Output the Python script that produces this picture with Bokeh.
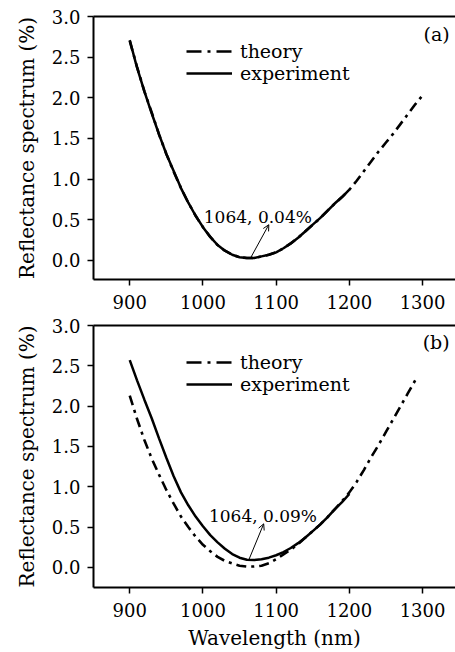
from bokeh.plotting import figure
from bokeh.layouts import column
from bokeh.models import (Range1d, FixedTicker, LinearAxis, Legend, LegendItem,
                          Arrow, OpenHead, Label, PrintfTickFormatter)
from bokeh.embed import file_html
from bokeh.resources import INLINE

# ---------------- data ----------------
x_ticks = [900, 1000, 1100, 1200, 1300]
y_ticks = [0.0, 0.5, 1.0, 1.5, 2.0, 2.5, 3.0]

# panel (a)
wl_a_theory = list(range(900, 1301, 10))
r_a_theory = [2.70, 2.38, 2.08, 1.82, 1.55, 1.31, 1.09, 0.89, 0.71, 0.55,
              0.41, 0.29, 0.19, 0.12, 0.07, 0.04, 0.03, 0.03, 0.05, 0.07,
              0.10, 0.15, 0.21, 0.28, 0.36, 0.44, 0.52, 0.61, 0.70, 0.78,
              0.87, 0.98, 1.10, 1.22, 1.34, 1.45, 1.56, 1.68, 1.80, 1.92,
              2.03]
wl_a_exp = list(range(900, 1201, 10))
r_a_exp = [2.71, 2.37, 2.08, 1.81, 1.55, 1.31, 1.10, 0.89, 0.71, 0.55,
           0.41, 0.29, 0.19, 0.12, 0.07, 0.04, 0.03, 0.03, 0.05, 0.07,
           0.10, 0.15, 0.21, 0.28, 0.36, 0.44, 0.52, 0.61, 0.70, 0.78,
           0.87]

# panel (b)
wl_b_theory = list(range(900, 1291, 10))
r_b_theory = [2.13, 1.84, 1.58, 1.35, 1.15, 0.96, 0.79, 0.63, 0.50, 0.38,
              0.28, 0.20, 0.13, 0.08, 0.05, 0.02, 0.01, 0.01, 0.02, 0.05,
              0.10, 0.16, 0.22, 0.29, 0.37, 0.45, 0.53, 0.62, 0.72, 0.82,
              0.93, 1.06, 1.21, 1.37, 1.52, 1.68, 1.84, 2.00, 2.16, 2.32]
wl_b_exp = list(range(900, 1201, 10))
r_b_exp = [2.57, 2.32, 2.08, 1.85, 1.60, 1.36, 1.13, 0.93, 0.77, 0.63,
           0.51, 0.40, 0.31, 0.23, 0.165, 0.12, 0.095, 0.09, 0.10, 0.12,
           0.15, 0.19, 0.24, 0.30, 0.37, 0.45, 0.53, 0.62, 0.72, 0.81,
           0.91]

# annotations: [text, text x, text y, arrow tail x, tail y, head x, head y]
note_a = ["1064, 0.04%", 1075, 0.54, 1065, 0.03, 1090, 0.44]
note_b = ["1064, 0.09%", 1082, 0.64, 1063, 0.10, 1083, 0.54]
panel_a = ["(a)", 1337, 2.78]
panel_b = ["(b)", 1337, 2.79]

FONT = "DejaVu Serif"
NAN = float("nan")


def make_panel(wl_t, r_t, wl_e, r_e, note, panel, ymin, height,
               top_border, bottom_border, show_xlabel, legend_y):
    p = figure(width=455, height=height, output_backend="svg",
               toolbar_location=None,
               x_range=Range1d(850.5, 1345), y_range=Range1d(ymin, 3.0),
               min_border_left=93, min_border_right=0,
               min_border_top=top_border, min_border_bottom=bottom_border)
    p.outline_line_color = None
    p.grid.visible = False
    p.background_fill_color = "white"
    p.border_fill_color = "white"

    for ax in (p.xaxis[0], p.yaxis[0]):
        ax.axis_line_width = 2
        ax.axis_line_color = "black"
        ax.major_tick_line_width = 1.5
        ax.major_tick_line_color = "black"
        ax.major_tick_out = 6
        ax.major_tick_in = 0
        ax.minor_tick_line_color = None
        ax.major_label_text_font = FONT
        ax.major_label_text_font_size = "18px"
        ax.major_label_text_color = "black"
        ax.axis_label_text_font = FONT
        ax.axis_label_text_font_size = "20px"
        ax.axis_label_text_font_style = "normal"
        ax.axis_label_text_color = "black"

    p.xaxis[0].ticker = FixedTicker(ticks=x_ticks)
    p.xaxis[0].major_label_standoff = 9
    p.yaxis[0].ticker = FixedTicker(ticks=y_ticks)
    p.yaxis[0].formatter = PrintfTickFormatter(format="%.1f")
    p.yaxis[0].major_label_standoff = 7
    p.yaxis[0].axis_label = "Reflectance spectrum (%)"
    p.yaxis[0].axis_label_standoff = 10
    if show_xlabel:
        p.xaxis[0].axis_label = "Wavelength (nm)"
        p.xaxis[0].axis_label_standoff = 6

    top = LinearAxis(ticker=FixedTicker(ticks=[]), axis_line_width=2,
                     axis_line_color="black", major_tick_line_color=None,
                     minor_tick_line_color=None, major_tick_out=0,
                     major_label_standoff=0, major_label_text_font_size="0px")
    p.add_layout(top, "above")

    p.line(wl_t, r_t, line_color="black", line_width=2.6,
           line_dash="10 5 3 5")
    re = p.line(wl_e, r_e, line_color="black", line_width=2.5)
    # legend key of the theory line (draws no point, longer dashes)
    rt_key = p.line([NAN], [NAN], line_color="black", line_width=2.6,
                    line_dash="15 6 3 6")

    legend = Legend(items=[LegendItem(label="theory", renderers=[rt_key]),
                           LegendItem(label="experiment", renderers=[re])],
                    location=(93, legend_y),
                    padding=0, margin=0, spacing=0,
                    glyph_width=46, glyph_height=20, label_height=20,
                    label_standoff=8, border_line_color=None,
                    background_fill_alpha=0,
                    label_text_font=FONT, label_text_font_size="19px",
                    label_text_color="black")
    p.add_layout(legend)

    p.add_layout(Label(x=note[1], y=note[2], text=note[0],
                       text_font=FONT, text_font_size="17px",
                       text_align="center", text_baseline="alphabetic",
                       text_color="black"))
    p.add_layout(Arrow(x_start=note[3], y_start=note[4],
                       x_end=note[5], y_end=note[6],
                       line_width=1, line_color="black",
                       end=OpenHead(size=6, line_width=1, line_color="black")))
    p.add_layout(Label(x=panel[1], y=panel[2], text=panel[0],
                       text_font=FONT, text_font_size="19px",
                       text_align="right", text_baseline="middle",
                       text_color="black"))
    return p


p1 = make_panel(wl_a_theory, r_a_theory, wl_a_exp, r_a_exp, note_a, panel_a,
                -0.234, 315, 16, 36, False, 195)
p2 = make_panel(wl_b_theory, r_b_theory, wl_b_exp, r_b_exp, note_b, panel_b,
                -0.25, 337, 10, 65, True, 192)

layout = column(p1, p2, spacing=0)
open("out.html", "w").write(file_html(layout, INLINE))
